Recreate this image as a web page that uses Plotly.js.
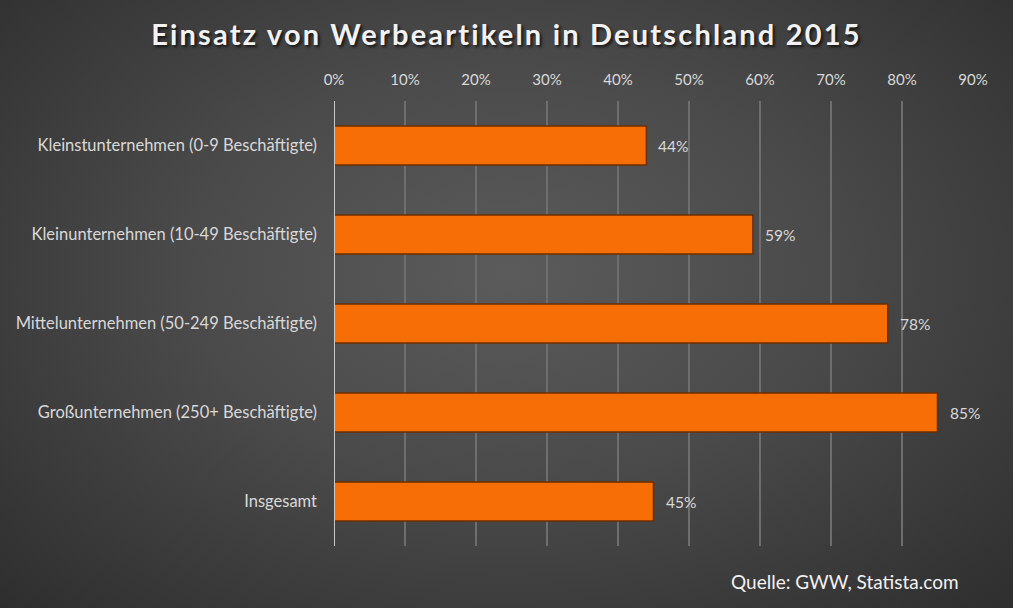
<!DOCTYPE html>
<html><head><meta charset="utf-8">
<script src="https://cdn.plot.ly/plotly-3.0.1.min.js"></script>
<style>
html,body{margin:0;padding:0;}
body{width:1013px;height:608px;overflow:hidden;background:radial-gradient(ellipse at 50% 45%, #5b5b5b 0%, #4a4a4a 45%, #2e2e2e 100%);}
#chart{width:1013px;height:608px;}
.gtitle{letter-spacing:2.2px;}
</style></head>
<body><div id="chart"></div>
<script>
const categories = [
  "Kleinstunternehmen (0-9 Beschäftigte)",
  "Kleinunternehmen (10-49 Beschäftigte)",
  "Mittelunternehmen (50-249 Beschäftigte)",
  "Großunternehmen (250+ Beschäftigte)",
  "Insgesamt"
];
const values = [0.44, 0.59, 0.78, 0.85, 0.45];
const valueLabels = ["44%", "59%", "78%", "85%", "45%"];
const tickVals = [0, 0.1, 0.2, 0.3, 0.4, 0.5, 0.6, 0.7, 0.8, 0.9];
const tickText = ["0%", "10%", "20%", "30%", "40%", "50%", "60%", "70%", "80%", "90%"];

const font = "Lato, 'Open Sans', sans-serif";
const trace = {
  type: "bar", orientation: "h",
  x: values, y: categories,
  marker: {color: "#f76d06", line: {color: "#6e2e00", width: 1.5}},
  width: 0.44, hoverinfo: "skip"
};
const labelAnns = values.map((v, i) => ({
  x: v, y: categories[i], xref: "x", yref: "y", text: valueLabels[i],
  xanchor: "left", yanchor: "middle", xshift: 10, showarrow: false,
  font: {family: font, size: 15.5, color: "#d9d9d9"}
}));
const layout = {
  width: 1013, height: 608,
  paper_bgcolor: "rgba(0,0,0,0)", plot_bgcolor: "rgba(0,0,0,0)",
  margin: {l: 334, r: 40, t: 101, b: 62},
  showlegend: false,
  title: {text: "Einsatz von Werbeartikeln in Deutschland 2015", x: 0.5, xanchor: "center", y: 0.943, yanchor: "middle",
    font: {family: font, size: 29, color: "#f2f2f2", weight: "bold", shadow: "2px 2px 3px rgba(0,0,0,0.7)"}},
  xaxis: {range: [0, 0.9], side: "top", tickvals: tickVals, ticktext: tickText,
    showgrid: true, gridcolor: "#6e6e6e", gridwidth: 1.5, zeroline: false, showline: false,
    ticks: "", ticklabelstandoff: 12,
    tickfont: {family: font, size: 15, color: "#d9d9d9"}, fixedrange: true},
  yaxis: {autorange: "reversed", showgrid: false, zeroline: false, showline: false,
    ticks: "", ticklabelstandoff: 16,
    tickfont: {family: font, size: 16.5, color: "#d9d9d9"}, fixedrange: true},
  shapes: [{type: "line", xref: "x", yref: "paper", x0: 0, x1: 0, y0: 0, y1: 1,
    line: {color: "#c8c8c8", width: 2}}],
  annotations: labelAnns.concat([{text: "Quelle: GWW, Statista.com", xref: "paper", yref: "paper", x: 1.0, y: -0.05,
    xanchor: "right", yanchor: "top", showarrow: false, xshift: -12,
    font: {family: font, size: 19, color: "#f2f2f2"}}])
};
Plotly.newPlot("chart", [trace], layout, {displayModeBar: false, staticPlot: true});
</script></body></html>
